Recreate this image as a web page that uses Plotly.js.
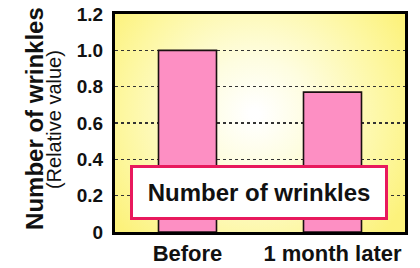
<!DOCTYPE html>
<html><head><meta charset="utf-8">
<script src="https://cdn.plot.ly/plotly-3.0.1.min.js"></script>
<style>body{margin:0;background:#fff}#chart{width:420px;height:268px}</style>
</head><body><div id="chart"></div>
<script>
const categories = ["Before", "1 month later"];
const values = [1.0, 0.77];
const yTicks = [0, 0.2, 0.4, 0.6, 0.8, 1.0, 1.2];
const yTickLabels = ["0", "0.2", "0.4", "0.6", "0.8", "1.0", "1.2"];
const legendLabel = "Number of wrinkles";
const yTitle = "Number of wrinkles";
const ySubTitle = "(Relative value)";

const F = 'Liberation Sans, Arial, sans-serif';

// radial yellow background
const cv = document.createElement('canvas');
cv.width = 290; cv.height = 218;
const ctx = cv.getContext('2d');
const g = ctx.createRadialGradient(140, 100, 5, 140, 100, 175);
g.addColorStop(0, '#ffffff');
g.addColorStop(0.3, '#fefde0');
g.addColorStop(0.75, '#fdf7a0');
g.addColorStop(1, '#fcf27c');
ctx.fillStyle = g; ctx.fillRect(0, 0, 290, 218);
const bg = cv.toDataURL();

const trace = {
  type: 'bar', x: categories, y: values,
  marker: {color: '#fd8fc3', line: {color: '#1a1010', width: 1.6}},
  width: 0.4, hoverinfo: 'none'
};
const layout = {
  width: 420, height: 268,
  margin: {l: 115, r: 15, t: 14, b: 36},
  paper_bgcolor: '#ffffff', plot_bgcolor: 'rgba(0,0,0,0)',
  showlegend: false,
  font: {family: F, color: '#111'},
  images: [{source: bg, xref: 'paper', yref: 'paper', x: 0, y: 1, sizex: 1, sizey: 1,
            sizing: 'stretch', layer: 'below'}],
  xaxis: {
    showline: true, linecolor: '#000', linewidth: 3, mirror: true,
    ticks: '', showgrid: false, ticklabelstandoff: 0,
    tickfont: {size: 22, family: F, color: '#111'},
    tickvals: categories, ticktext: categories.map(c => '<b>' + c + '</b>')
  },
  yaxis: {
    range: [0, 1.2], showline: true, linecolor: '#000', linewidth: 3, mirror: true,
    tickvals: yTicks, ticktext: yTickLabels.map(t => '<b>' + t + '</b>'),
    tickfont: {size: 19, family: F, color: '#111'},
    ticks: '', ticklen: 0, ticklabelstandoff: 5,
    showgrid: true, gridcolor: '#333', griddash: 'dot', gridwidth: 1.2,
    zeroline: false
  },
  annotations: [
    {xref: 'paper', yref: 'paper', x: -0.276, y: 0.523, xanchor: 'center', yanchor: 'middle',
     textangle: -90, showarrow: false, text: '<b>' + yTitle + '</b>',
     font: {size: 24, family: F, color: '#111'}},
    {xref: 'paper', yref: 'paper', x: -0.21, y: 0.514, xanchor: 'center', yanchor: 'middle',
     textangle: -90, showarrow: false, text: ySubTitle,
     font: {size: 20, family: F, color: '#111'}},
    {xref: 'paper', yref: 'paper', x: 0.497, y: 0.18, xanchor: 'center', yanchor: 'middle',
     text: '<b>' + legendLabel + '</b>', showarrow: false,
     font: {size: 24, family: F, color: '#111'},
     bgcolor: '#ffffff', bordercolor: '#e8195d', borderwidth: 3,
     width: 250, height: 47}
  ]
};
Plotly.newPlot('chart', [trace], layout, {staticPlot: true, displayModeBar: false});
</script></body></html>
